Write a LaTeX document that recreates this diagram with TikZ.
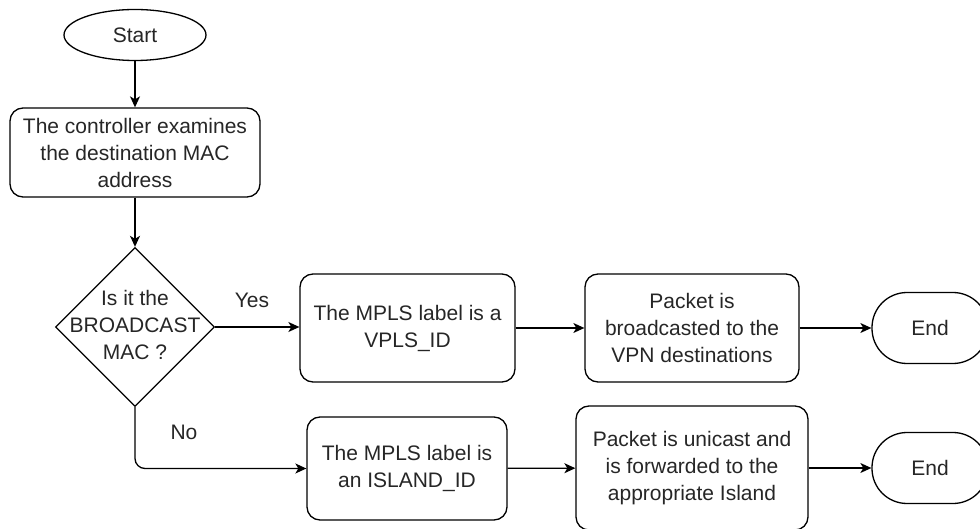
\documentclass[tikz,border=0pt]{standalone}
\usepackage{fontspec}
\setmainfont{Liberation Sans}
\usetikzlibrary{arrows.meta,shapes.geometric}
\begin{document}
\begin{tikzpicture}[x=1pt,y=-1pt,
  every node/.style={font=\fontsize{21}{27}\selectfont, inner sep=0pt, align=center, text=black!85},
  line/.style={line width=1.3pt, draw=black},
  proc/.style={line, rectangle, rounded corners=13pt},
  term/.style={line, ellipse},
  stadium/.style={line, rectangle, rounded corners=35pt},
  decision/.style={line, diamond, aspect=1},
  flow/.style={line, -{Stealth[length=11pt,width=10pt,inset=3pt]}}
]
\useasboundingbox (0,0) rectangle (980,529);
\clip (0,0) rectangle (980,529);

% nodes
\node[term, minimum width=142pt, minimum height=51pt] (start) at (135,35) {Start};
\node[proc, minimum width=250pt, minimum height=89pt] (ctrl) at (135,152.5)
  {The controller examines\\the destination MAC\\address};
\node[decision, minimum width=159pt, minimum height=159pt] (dec) at (135,327) {};
\node (dectext) at (135,325) {Is it the\\BROADCAST\\MAC ?};

\node[proc, minimum width=215pt, minimum height=108pt] (vpls) at (407.5,328)
  {The MPLS label is a\\VPLS\_ID};
\node[proc, minimum width=214pt, minimum height=108pt] (bcast) at (692,328)
  {Packet is\\broadcasted to the\\VPN destinations};
\node[stadium, minimum width=116pt, minimum height=71pt] (end1) at (930,328) {End};

\node[proc, minimum width=200pt, minimum height=103pt] (island) at (407,468.5)
  {The MPLS label is\\an ISLAND\_ID};
\node[proc, minimum width=232pt, minimum height=124pt] (ucast) at (692,468)
  {Packet is unicast and\\is forwarded to the\\appropriate Island};
\node[stadium, minimum width=116pt, minimum height=71pt] (end2) at (930,468) {End};

% branch labels
\node (yes) at (252,300) {Yes};
\node (no) at (184,432) {No};

% connectors
\draw[flow] (start) -- (ctrl);
\draw[flow] (ctrl) -- (dec);
\draw[flow] (dec.east) -- (vpls.west |- dec.east);
\draw[flow] (vpls) -- (bcast);
\draw[flow] (bcast) -- (end1);
\draw[flow, rounded corners=10pt] (dec.south) |- (island.west);
\draw[flow] (island) -- (ucast);
\draw[flow] (ucast) -- (end2);
\end{tikzpicture}
\end{document}
